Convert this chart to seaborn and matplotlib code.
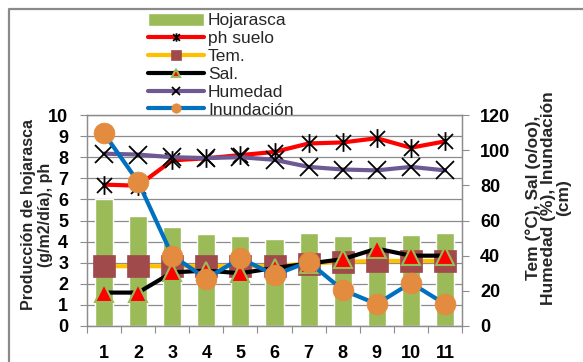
import numpy as np
import matplotlib
matplotlib.use("Agg")
import matplotlib.pyplot as plt
from matplotlib.path import Path
from matplotlib.lines import Line2D
import seaborn as sns

# Monthly sampling points
categories = ["1", "2", "3", "4", "5", "6", "7", "8", "9", "10", "11"]

# Left axis: litter production (g/m2/day) and soil pH
hojarasca = [6.0, 5.2, 4.7, 4.35, 4.25, 4.1, 4.4, 4.25, 4.25, 4.3, 4.4]
ph_suelo = [6.7, 6.65, 7.85, 7.95, 8.1, 8.25, 8.65, 8.7, 8.9, 8.45, 8.75]

# Right axis: temperature, salinity, humidity, flooding
tem = [34, 34, 34, 34, 34, 34, 35.5, 36.5, 37, 37, 37]
sal = [19, 19, 30.5, 31.5, 30, 33, 35.5, 38, 44, 40, 40]
humedad = [98, 97.5, 96, 95.5, 96, 94.5, 90.5, 89, 88.5, 90.5, 88.5]
inundacion = [109.5, 82, 40, 27, 38.5, 29, 36.5, 20.5, 12.5, 24.5, 12.5]

left_ticks = list(range(0, 11))
right_ticks = list(range(0, 121, 20))

sns.set_style("white")
plt.rcParams["font.family"] = ["Liberation Sans", "DejaVu Sans"]

W, H = 583, 362
fig = plt.figure(figsize=(W / 100, H / 100), dpi=100)
ax = fig.add_axes([87 / W, 1 - 326 / H, (462 - 87) / W, (326 - 115) / H])
ax2 = ax.twinx()

grey = "#8C8C8C"
pos = np.arange(len(categories))

# Excel-style star: an X crossed by a vertical stroke
star = Path(
    [(-1, -1), (1, 1), (-1, 1), (1, -1), (0, -1.25), (0, 1.25)],
    [Path.MOVETO, Path.LINETO, Path.MOVETO, Path.LINETO, Path.MOVETO, Path.LINETO],
)

sns.barplot(x=categories, y=hojarasca, color="#9BBB59", saturation=1,
            width=0.53, errorbar=None, ax=ax, zorder=2)
sns.lineplot(x=pos, y=ph_suelo, ax=ax, color="#FF0000", lw=3, marker=star,
             markersize=13.5, markeredgecolor="black", markerfacecolor="none",
             markeredgewidth=1.3, zorder=3)
ph_line = ax.lines[-1]

sns.lineplot(x=pos, y=tem, ax=ax2, color="#FFC000", lw=3, marker="s",
             markersize=15.5, markerfacecolor="#A14A4C",
             markeredgecolor="#A14A4C", markeredgewidth=0.5)
tem_line = ax2.lines[-1]
sns.lineplot(x=pos, y=sal, ax=ax2, color="black", lw=3, marker="^",
             markersize=12.5, markerfacecolor="#FF0000",
             markeredgecolor="#9BBB59", markeredgewidth=1.5)
sal_line = ax2.lines[-1]
sns.lineplot(x=pos, y=humedad, ax=ax2, color="#6E5A93", lw=3, marker="x",
             markersize=13, markeredgecolor="black", markeredgewidth=1.3)
hum_line = ax2.lines[-1]
sns.lineplot(x=pos, y=inundacion, ax=ax2, color="#0070C0", lw=3, marker="o",
             markersize=15, markerfacecolor="#E38B3F",
             markeredgecolor="#E38B3F", markeredgewidth=0.5)
inu_line = ax2.lines[-1]

# Axes limits and ticks
ax.set_xlim(-0.5, len(categories) - 0.5)
ax.set_ylim(0, 10)
ax2.set_ylim(0, 120)
ax.set_yticks(left_ticks)
ax2.set_yticks(right_ticks)
ax.set_xticks(pos)
ax.set_xticklabels(categories)
ax.set_xticks(np.arange(-0.5, len(categories), 1.0), minor=True)
ax.set_xlabel("")
ax.set_ylabel("")
ax2.set_ylabel("")

for lab in ax.get_yticklabels() + ax.get_xticklabels() + ax2.get_yticklabels():
    lab.set_fontsize(13)
    lab.set_fontweight("bold")
    lab.set_color("black")

ax.tick_params(axis="y", which="major", length=5, width=0.8, color=grey,
               direction="out", pad=8.5, left=True)
ax.tick_params(axis="x", which="major", length=0, pad=14)
ax.tick_params(axis="x", which="minor", length=5, width=0.8, color=grey,
               direction="out", bottom=True)
ax2.tick_params(axis="y", which="major", length=5, width=0.8, color=grey,
                direction="out", pad=8, right=True)

ax.yaxis.grid(True, color=grey, lw=0.9)
ax.xaxis.grid(False)
ax2.grid(False)
ax.set_axisbelow(True)
for a in (ax, ax2):
    for s in a.spines.values():
        s.set_visible(True)
        s.set_color(grey)
        s.set_linewidth(0.9)
ax2.patch.set_visible(False)

# Axis titles
fig.text(37 / W, 1 - 215 / H,
         "Producción de hojarasca\n(g/m2/día), ph",
         rotation=90, ha="center", va="center", fontsize=11.5,
         fontweight="bold", linespacing=1.1, multialignment="center")
fig.text(548 / W, 1 - 198 / H,
         "Tem (°C), Sal (o/oo),\nHumedad (%), Inundación\n(cm)",
         rotation=90, ha="center", va="center", fontsize=12.5,
         fontweight="bold", linespacing=1.0, multialignment="center")

# Legend built from both axes
bar_handle = ax.patches[0]
handles = [bar_handle, ph_line, tem_line, sal_line, hum_line, inu_line]
labels = ["Hojarasca", "ph suelo", "Tem.", "Sal.", "Humedad", "Inundación"]
fig.legend(handles, labels,
           loc="upper left", bbox_to_anchor=(148 / W, 1 - 13 / H),
           frameon=False, fontsize=12.5, handlelength=3.25,
           handletextpad=0.2, labelspacing=0.14, borderpad=0,
           borderaxespad=0, handleheight=0.75, markerscale=0.45)

# Chart outer border (top and left edges)
fig.add_artist(Line2D([9 / W, 9 / W, 1.0], [0.0, 1 - 9 / H, 1 - 9 / H],
                      transform=fig.transFigure, color="#8A8A8A", lw=1.6))

fig.savefig("out.png", dpi=100)
